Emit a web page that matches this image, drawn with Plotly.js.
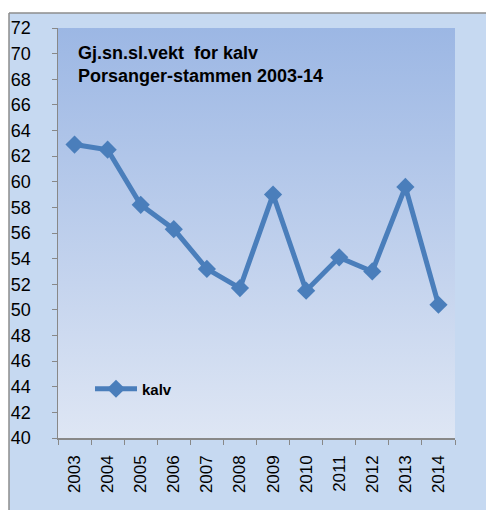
<!DOCTYPE html>
<html>
<head>
<meta charset="utf-8">
<script src="https://cdn.plot.ly/plotly-3.0.1.min.js"></script>
<style>
  html, body { margin: 0; padding: 0; background: #fff; }
  #chart { width: 486px; height: 510px; }
</style>
</head>
<body>
<div id="chart"></div>
<script>
var years = ['2003', '2004', '2005', '2006', '2007', '2008', '2009', '2010', '2011', '2012', '2013', '2014'];
var kalv = [62.9, 62.5, 58.2, 56.3, 53.2, 51.7, 59.0, 51.5, 54.1, 53.0, 59.6, 50.4];
var titleLines = ['Gj.sn.sl.vekt  for kalv', 'Porsanger-stammen 2003-14'];

var blue = '#4a7ebb';
var font = 'Liberation Sans, Arial, sans-serif';

// plot area in pixels: x 58..455, y 28..438
var L = 58, R = 31, T = 28, B = 72;
var W = 486 - L - R, H = 510 - T - B;
function px(x) { return (x - L) / W; }
function py(y) { return (510 - B - y) / H; }

var grad = '<svg xmlns="http://www.w3.org/2000/svg" width="10" height="100" preserveAspectRatio="none">' +
  '<defs><linearGradient id="g" x1="0" y1="0" x2="0" y2="1">' +
  '<stop offset="0" stop-color="#9cb7e4"/><stop offset="1" stop-color="#dee6f4"/>' +
  '</linearGradient></defs><rect width="10" height="100" fill="url(#g)"/></svg>';

var trace1 = {
  x: years,
  y: kalv,
  name: 'kalv',
  type: 'scatter',
  mode: 'lines+markers',
  line: { color: blue, width: 5 },
  marker: { symbol: 'diamond', size: 14, color: blue },
  hoverinfo: 'none'
};

var layout = {
  width: 486,
  height: 510,
  margin: { l: L, r: R, t: T, b: B },
  paper_bgcolor: '#c6d9f1',
  plot_bgcolor: 'rgba(0,0,0,0)',
  xaxis: {
    type: 'category',
    range: [-0.5, years.length - 0.5],
    showline: true, linecolor: '#888', linewidth: 1.5,
    ticks: 'outside', tickson: 'boundaries', ticklen: 5, tickcolor: '#888',
    tickangle: -90,
    ticklabelstandoff: 9,
    tickfont: { family: font, size: 17, color: '#000' },
    showgrid: false, zeroline: false, fixedrange: true
  },
  yaxis: {
    range: [40, 72],
    dtick: 2,
    showline: true, linecolor: '#888', linewidth: 1.5,
    ticks: 'outside', ticklen: 5, tickcolor: '#888',
    ticklabelstandoff: 17,
    tickfont: { family: font, size: 18, color: '#000' },
    showgrid: false, zeroline: false, fixedrange: true
  },
  showlegend: true,
  legend: {
    x: px(90), xanchor: 'left',
    y: py(389), yanchor: 'middle',
    itemwidth: 42,
    bgcolor: 'rgba(0,0,0,0)',
    font: { family: font, size: 15, color: '#000', weight: 'bold' }
  },
  annotations: [{
    text: '<b>' + titleLines.join('<br>') + '</b>',
    xref: 'paper', yref: 'paper',
    x: px(76), xanchor: 'left',
    y: py(41), yanchor: 'top',
    align: 'left', showarrow: false,
    font: { family: font, size: 18, color: '#000' }
  }],
  images: [{
    source: 'data:image/svg+xml;utf8,' + encodeURIComponent(grad),
    xref: 'paper', yref: 'paper',
    x: 0, y: 1, sizex: 1, sizey: 1,
    xanchor: 'left', yanchor: 'top',
    sizing: 'stretch', layer: 'below'
  }],
  shapes: [
    // white strip above and left of the chart frame
    { type: 'rect', xref: 'paper', yref: 'paper', x0: px(-5), x1: px(500), y0: py(13), y1: py(-5),
      fillcolor: '#fff', line: { width: 0 }, layer: 'below' },
    { type: 'rect', xref: 'paper', yref: 'paper', x0: px(-5), x1: px(9), y0: py(520), y1: py(13),
      fillcolor: '#fff', line: { width: 0 }, layer: 'below' },
    // frame border
    { type: 'line', xref: 'paper', yref: 'paper', x0: px(9), x1: px(500), y0: py(13), y1: py(13),
      line: { color: '#8c8c8c', width: 1.5 } },
    { type: 'line', xref: 'paper', yref: 'paper', x0: px(9), x1: px(9), y0: py(13), y1: py(520),
      line: { color: '#8c8c8c', width: 1.5 } }
  ]
};

Plotly.newPlot('chart', [trace1], layout, { displayModeBar: false, staticPlot: true });
</script>
</body>
</html>
